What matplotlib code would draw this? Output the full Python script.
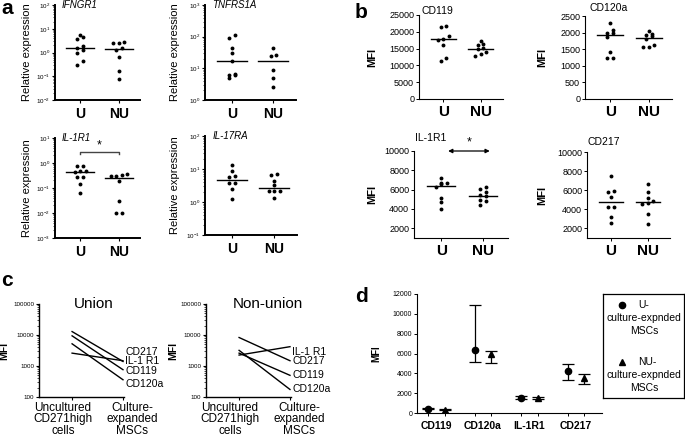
import numpy as np
import matplotlib

matplotlib.use('Agg')
import matplotlib.pyplot as plt
from matplotlib.ticker import LogLocator, NullFormatter, FixedLocator, FixedFormatter
from matplotlib.transforms import ScaledTranslation

plt.rcParams['font.family'] = ['Liberation Sans', 'DejaVu Sans']
plt.rcParams['mathtext.fontset'] = 'custom'
plt.rcParams['mathtext.rm'] = 'Liberation Sans'
plt.rcParams['mathtext.it'] = 'Liberation Sans:italic'
plt.rcParams['axes.linewidth'] = 1.0

W, H = 685, 438

groups = ['U', 'NU']

# panel a: relative expression, U vs NU
ifngr1_u = [5.2, 4.4, 3.6, 1.8, 1.6, 1.3, 0.93, 0.43, 0.31]
ifngr1_nu = [2.9, 2.6, 2.5, 1.5, 1.3, 0.65, 0.16, 0.08]
tnfrs1a_u = [112, 89, 44, 31, 17, 6.8, 6.3, 6.0, 4.8]
tnfrs1a_nu = [44, 27, 24.5, 9.1, 4.8, 2.5]
il1r1_u = [0.78, 0.78, 0.46, 0.46, 0.44, 0.28, 0.28, 0.14, 0.065]
il1r1_nu = [0.35, 0.33, 0.31, 0.31, 0.19, 0.03, 0.01, 0.01]
il17ra_u = [13.2, 8.5, 5.9, 6.0, 3.7, 3.7, 2.5, 1.2]
il17ra_nu = [7.1, 6.6, 4.2, 3.2, 2.2, 2.1, 2.1, 1.3]

# panel b: MFI, U vs NU
cd119_u = [21730, 21420, 18700, 18000, 17700, 16000, 12300, 11300]
cd119_nu = [17360, 16340, 16140, 15120, 14920, 13900, 13500, 12900]
cd120a_u = [2290, 2070, 1990, 1980, 1880, 1430, 1250, 1250]
cd120a_nu = [2050, 1950, 1930, 1900, 1800, 1630, 1580, 1560]
il1r1_mfi_u = [7230, 6700, 6650, 6550, 6300, 5130, 4760, 4030]
il1r1_mfi_nu = [6260, 6120, 5780, 5430, 5330, 4970, 4800, 4450]
cd217_u = [7540, 5960, 5820, 5330, 4210, 4210, 3160, 2560]
cd217_nu = [6600, 5820, 5190, 4840, 4670, 4600, 3540, 2420]

# panel c: uncultured -> culture-expanded
stages = ['Uncultured\nCD271high\ncells', 'Culture-\nexpanded\nMSCs']
markers_c = ['CD217', 'IL-1 R1', 'CD119', 'CD120a']
union_start = [12900, 2600, 9400, 5200]
union_end = [1400, 1480, 760, 360]
nonunion_markers = ['IL-1 R1', 'CD217', 'CD119', 'CD120a']
nonunion_start = [2250, 8300, 2600, 3200]
nonunion_end = [4200, 1480, 500, 175]

# panel d: culture-expanded MSCs mean and range
d_cats = ['CD119', 'CD120a', 'IL-1R1', 'CD217']
d_u_mean = [440, 6400, 1550, 4200]
d_u_lo = [380, 5150, 1450, 3370]
d_u_hi = [500, 10850, 1680, 4920]
d_nu_mean = [340, 5900, 1550, 3570]
d_nu_lo = [260, 5050, 1450, 2900]
d_nu_hi = [420, 6260, 1650, 3980]


def rect(l, t, r, b):
    return [l / W, 1 - b / H, (r - l) / W, (b - t) / H]


def swarm(ax, x0, vals, gap=3.5, step=5.5):
    vals = np.asarray(vals, dtype=float)
    pts = ax.transData.transform(np.column_stack([np.full(len(vals), float(x0)), vals]))
    order = np.argsort(pts[:, 1])
    rows = []
    for i in order:
        if rows and pts[i, 1] - pts[rows[-1][0], 1] < gap:
            rows[-1].append(i)
        else:
            rows.append([i])
    xs = pts[:, 0].copy()
    for row in rows:
        n = len(row)
        for j, i in enumerate(row):
            xs[i] = pts[i, 0] + (j - (n - 1) / 2) * step
    return ax.transData.inverted().transform(np.column_stack([xs, pts[:, 1]]))[:, 0]


def ylabel_at(ax, box, text, x_px, **kw):
    l, t, r, b = box
    ax.set_ylabel(text, **kw)
    ax.yaxis.set_label_coords((x_px - l) / (r - l), 0.5)


def text_px(x, y, s, **kw):
    fig.text(x / W, 1 - y / H, s, **kw)


def clean(ax):
    ax.spines['top'].set_visible(False)
    ax.spines['right'].set_visible(False)


fig = plt.figure(figsize=(W / 100, H / 100), dpi=100)


def dot_panel(box, u, nu, ylim, log=False, half=0.36, xlim=(0.35, 2.55)):
    ax = fig.add_axes(rect(*box))
    clean(ax)
    if log:
        ax.set_yscale('log')
    ax.set_ylim(*ylim)
    ax.set_xlim(*xlim)
    for x0, vals in zip([1, 2], [u, nu]):
        xs = swarm(ax, x0, vals)
        ax.plot(xs, vals, 'o', color='k', ms=2.8, mec='none', clip_on=False)
        med = np.median(vals)
        ax.plot([x0 - half, x0 + half], [med, med], color='k', lw=1.0)
    ax.set_xticks([1, 2])
    return ax


# ---- panel a ----
a_boxes = [(55, 5, 140, 100), (205, 5, 296, 100), (55, 138, 140, 238), (205, 136, 297, 235)]
a_data = [(ifngr1_u, ifngr1_nu, (1e-2, 1e2), 'IFNGR1'),
          (tnfrs1a_u, tnfrs1a_nu, (1e0, 1e3), 'TNFRS1A'),
          (il1r1_u, il1r1_nu, (1e-3, 1e1), 'IL-1R1'),
          (il17ra_u, il17ra_nu, (1e-1, 1e2), 'IL-17RA')]
a_label_x = [32, 180, 32, 180]
a_axes = []
for box, (u, nu, yl, name), lx in zip(a_boxes, a_data, a_label_x):
    ax = dot_panel(box, u, nu, yl, log=True)
    ax.spines['left'].set_linewidth(1.4)
    ax.spines['bottom'].set_linewidth(1.4)
    lo, hi = int(np.log10(yl[0])), int(np.log10(yl[1]))
    ticks = [10.0 ** k for k in range(lo, hi + 1)]
    ax.yaxis.set_major_locator(FixedLocator(ticks))
    ax.yaxis.set_major_formatter(FixedFormatter([r'$10^{%d}$' % k for k in range(lo, hi + 1)]))
    ax.yaxis.set_minor_locator(LogLocator(subs=np.arange(2, 10)))
    ax.yaxis.set_minor_formatter(NullFormatter())
    ax.tick_params(axis='y', which='major', labelsize=4.5, length=2.5, width=0.8, pad=1)
    ax.tick_params(axis='y', which='minor', length=1.5, width=0.5)
    ax.tick_params(axis='x', length=2, width=0.8, pad=3)
    ax.set_xticklabels(groups, fontsize=10, fontweight='bold')
    ax.text(0.08, 1.0, name, transform=ax.transAxes, fontsize=7, style='italic',
            va='center', ha='left')
    ylabel_at(ax, box, 'Relative expression', lx, fontsize=8)
    a_axes.append(ax)

# significance bracket on IL-1R1
ax = a_axes[2]
ax.plot([1, 1, 2, 2], [2.2, 2.7, 2.7, 2.2], color='#444444', lw=1.0)
ax.text(1.5, 3.0, '*', ha='center', va='bottom', fontsize=9)

# ---- panel b ----
b_boxes = [(419, 15, 503, 99), (585, 16, 672, 99), (414, 151, 508, 238), (587, 152, 670, 238)]
b_data = [(cd119_u, cd119_nu, (0, 25000), np.arange(0, 25001, 5000), 'CD119'),
          (cd120a_u, cd120a_nu, (0, 2500), np.arange(0, 2501, 500), 'CD120a'),
          (il1r1_mfi_u, il1r1_mfi_nu, (1000, 10000), np.arange(2000, 10001, 2000), 'IL-1R1'),
          (cd217_u, cd217_nu, (1000, 10000), np.arange(2000, 10001, 2000), 'CD217')]
b_label_x = [377, 547, 377, 547]
b_title_xy = [(422, 11), (590, 8), (415, 138), (587, 142)]
b_axes = []
for box, (u, nu, yl, ticks, name), lx, (tx, ty) in zip(b_boxes, b_data, b_label_x, b_title_xy):
    ax = dot_panel(box, u, nu, yl, half=0.33, xlim=(0.35, 2.6))
    ax.spines['left'].set_linewidth(0.8)
    ax.spines['bottom'].set_linewidth(0.8)
    ax.set_yticks(ticks)
    ax.tick_params(axis='y', labelsize=6.5, length=2.5, width=0.7, pad=1)
    ax.tick_params(axis='x', length=2, width=0.7, pad=2)
    ax.set_xticklabels(groups, fontsize=11, fontweight='bold')
    text_px(tx, ty, name, fontsize=7.5, va='center', ha='left')
    ylabel_at(ax, box, 'MFI', lx, fontsize=8, fontweight='bold')
    b_axes.append(ax)

ax = b_axes[2]
ax.annotate('', xy=(1.1, 10000), xytext=(2.23, 10000),
            arrowprops=dict(arrowstyle='<|-|>', color='k', lw=0.9, mutation_scale=6),
            annotation_clip=False)
ax.text(1.67, 10250, '*', ha='center', va='bottom', fontsize=9)

# ---- panel c ----
c_boxes = [(39, 304, 124, 397), (206, 304, 291, 397)]
c_sets = [('Union', markers_c, union_start, union_end, 0.64, [7, 0, -1, -3], 9),
          ('Non-union', nonunion_markers, nonunion_start, nonunion_end, 0.73, [-3.5, 0, 0, 0], 178)]
for box, (title, names, start, end, tx, offs, lx) in zip(c_boxes, c_sets):
    ax = fig.add_axes(rect(*box))
    clean(ax)
    ax.set_yscale('log')
    ax.set_ylim(100, 100000)
    ax.set_xlim(-0.65, 1.02)
    for name, s, e, dy in zip(names, start, end, offs):
        ax.plot([0, 1], [s, e], color='k', lw=1.0)
        ax.annotate(name, (1, e), xytext=(1.5, dy), textcoords='offset points',
                    va='center', ha='left', fontsize=7.5, annotation_clip=False)
    ax.yaxis.set_major_locator(FixedLocator([100, 1000, 10000, 100000]))
    ax.yaxis.set_major_formatter(FixedFormatter(['100', '1000', '10000', '100000']))
    ax.yaxis.set_minor_locator(LogLocator(subs=np.arange(2, 10)))
    ax.yaxis.set_minor_formatter(NullFormatter())
    ax.tick_params(axis='y', which='major', labelsize=4.5, length=2.5, width=0.8, pad=1)
    ax.tick_params(axis='y', which='minor', length=1.2, width=0.5)
    ax.set_xticks([0, 1])
    ax.set_xticklabels(stages, fontsize=8.5, linespacing=0.95)
    ax.tick_params(axis='x', length=2, width=0.8, pad=1.5)
    for lab, dx in zip(ax.get_xticklabels(), [-0.09, 0.09]):
        lab.set_transform(lab.get_transform() + ScaledTranslation(dx, 0, fig.dpi_scale_trans))
    ax.text(tx, 1.0, title, transform=ax.transAxes, fontsize=11, ha='center', va='center')
    ylabel_at(ax, box, 'MFI', lx, fontsize=7.5, fontweight='bold')

# ---- panel d ----
d_box = (417, 294, 602, 413)
ax = fig.add_axes(rect(*d_box))
clean(ax)
xc = np.arange(len(d_cats))
xu, xn = xc - 0.18, xc + 0.18
u_mean, nu_mean = np.array(d_u_mean), np.array(d_nu_mean)
ax.errorbar(xu, u_mean, yerr=[u_mean - np.array(d_u_lo), np.array(d_u_hi) - u_mean],
            fmt='o', color='k', ms=4.5, capsize=4, elinewidth=0.9, capthick=0.9)
ax.errorbar(xn, nu_mean, yerr=[nu_mean - np.array(d_nu_lo), np.array(d_nu_hi) - nu_mean],
            fmt='^', color='k', ms=4.5, capsize=4, elinewidth=0.9, capthick=0.9)
ax.set_xlim(-0.42, 3.56)
ax.set_ylim(0, 12000)
ax.set_yticks(np.arange(0, 12001, 2000))
ax.tick_params(axis='y', labelsize=5, length=2.5, width=0.7, pad=1)
ax.set_xticks(np.sort(np.concatenate([xu, xn])))
ax.set_xticklabels([])
ax.set_xticks(xc, minor=True)
ax.set_xticklabels(d_cats, minor=True, fontsize=7.5, fontweight='bold')
ax.tick_params(axis='x', which='minor', length=0, pad=6)
ax.tick_params(axis='x', which='major', length=2.5, width=0.7)
ax.spines['left'].set_linewidth(0.8)
ax.spines['bottom'].set_linewidth(0.8)
ylabel_at(ax, d_box, 'MFI', 381, fontsize=7, fontweight='bold')

# legend box
lg_box = (603, 294, 684, 398)
lg = fig.add_axes(rect(*lg_box))
lg.set_xlim(lg_box[0], lg_box[2])
lg.set_ylim(lg_box[3], lg_box[1])
lg.set_xticks([])
lg.set_yticks([])
for s in lg.spines.values():
    s.set_linewidth(0.9)
for mk, head, y0 in [('o', 'U-', 305), ('^', 'NU-', 362)]:
    lg.plot([622], [y0], mk, color='k', ms=4.5)
    lg.text(638, y0, head, fontsize=7.5, va='center', ha='left')
    lg.text(644, y0 + 13, 'culture-expnded', fontsize=7.5, va='center', ha='center')
    lg.text(644, y0 + 26, 'MSCs', fontsize=7.5, va='center', ha='center')

# panel letters
for letter, x, y in [('a', 1, 9), ('b', 355, 12), ('c', 1, 280), ('d', 355, 296)]:
    text_px(x, y, letter, fontsize=15, fontweight='bold', va='center', ha='left')

fig.savefig('out.png', dpi=100)
plt.close()
